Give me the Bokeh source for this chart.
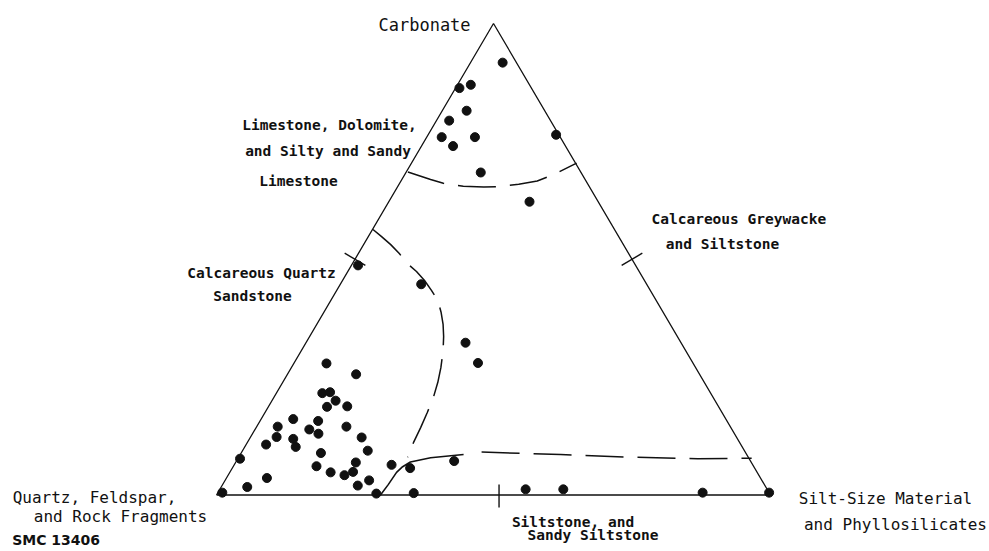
from bokeh.plotting import figure
from bokeh.models import Range1d, Label
from bokeh.embed import file_html
from bokeh.resources import INLINE
import math

# ---- sample compositions (percent) ----
# carbonate (apex), silt-size material & phyllosilicates (right corner);
# quartz, feldspar & rock fragments = remainder (left corner)
carbonate = [91.7, 86.3, 87.0, 81.5, 79.4, 75.9, 75.9, 74.0, 68.4, 76.4, 62.2,
             48.7, 44.7, 32.3, 28.0,
             27.9, 25.6, 21.6, 21.8, 20.0, 18.7, 18.8, 16.1, 15.7, 14.5,
             14.5, 13.9, 13.0, 12.3, 11.9, 12.2, 10.7, 10.2, 9.4, 8.9,
             7.7, 6.9, 6.1, 6.4, 5.7, 7.2, 4.8, 4.9, 4.2, 3.6,
             3.1, 2.0, 1.7, 0.3, 0.4, 0.5,
             1.2, 1.2, 0.5, 0.5]
silt = [5.8, 0.7, 2.4, 4.4, 2.3, 2.7, 8.7, 5.7, 13.5, 23.1, 25.4,
        1.2, 14.6, 28.8, 33.2,
        5.9, 12.4, 8.3, 9.6, 11.5, 10.6, 14.2, 5.8, 10.5, 16.2,
        3.8, 9.8, 11.9, 4.7, 7.9, 20.1, 3.6, 9.2, 22.6, 14.4,
        0.4, 21.7, 15.0, 28.4, 32.1, 39.3, 18.2, 22.2, 21.0, 7.3,
        26.0, 24.5, 4.7, 28.7, 35.4, 0.8,
        55.2, 62.0, 87.5, 99.5]

# ---- field boundaries (carbonate %, silt %) ----
limestone_c = [68.5, 66.9, 66.1, 65.5, 65.3, 65.4, 65.9, 66.6, 68.0, 70.4]
limestone_s = [0.3, 5.2, 7.9, 11.8, 15.6, 18.0, 21.6, 24.6, 26.9, 29.8]
sandstone_c = [56.3, 54.8, 53.1, 51.2, 49.1, 47.4, 45.5, 43.4, 41.3, 38.7,
               36.2, 33.6, 30.6, 27.0, 23.9, 20.7, 17.5, 14.3, 11.1, 8.0]
sandstone_s = [0.1, 2.4, 4.9, 7.4, 9.9, 12.4, 14.8, 17.1, 19.3, 21.2,
               22.8, 24.2, 25.6, 27.0, 28.0, 28.8, 29.3, 29.7, 30.0, 30.5]
siltstone_c = [0.0, 2.2, 4.8, 6.0, 7.0, 7.9, 8.6]
siltstone_s = [29.6, 29.9, 30.1, 30.6, 31.5, 34.7, 40.3]
greywacke_c = [9.1, 8.6, 8.0, 7.7, 7.8]
greywacke_s = [43.3, 57.8, 71.3, 83.0, 92.7]

# ---- edge marks (carbonate %, silt %) ----
mark_c = [50.0, 50.0, 0.0]
mark_s = [0.0, 50.0, 51.0]


def tern(c, s):
    xs = [si / 100 + ci / 200 for ci, si in zip(c, s)]
    ys = [ci / 100 for ci in c]
    return xs, ys


# canvas geometry: triangle corners in screen pixels
W, H = 988, 550
LEFT_PX, RIGHT_PX, BASE_PX, APEX_PX = 216.0, 770.0, 494.5, 23.0
PX_X = RIGHT_PX - LEFT_PX
PX_Y = BASE_PX - APEX_PX
X0 = -LEFT_PX / PX_X
X1 = X0 + W / PX_X
Y1 = BASE_PX / PX_Y
Y0 = Y1 - H / PX_Y

p = figure(width=W, height=H, output_backend="svg", toolbar_location=None,
           x_range=Range1d(X0, X1), y_range=Range1d(Y0, Y1),
           min_border=0, outline_line_color=None, background_fill_color="white")
p.axis.visible = False
p.grid.visible = False

INK = "#111111"

# triangle
tx, ty = tern([0, 0, 100, 0], [0, 100, 0, 0])
p.line(tx, ty, line_color=INK, line_width=1.3)

# boundaries
DASH = "38 14"
for cc, ss in [(limestone_c, limestone_s), (sandstone_c, sandstone_s),
               (greywacke_c, greywacke_s)]:
    bx, by = tern(cc, ss)
    p.line(bx, by, line_color=INK, line_width=1.5, line_dash=DASH)
sx, sy = tern(siltstone_c, siltstone_s)
p.line(sx, sy, line_color=INK, line_width=1.6)

# edge marks, perpendicular to edges, in pixels
TICK = 12
mx, my = tern(mark_c, mark_s)
dirs = [(277.0, 471.5), (277.0, -471.5), (0.0, 1.0)]
x0s, y0s, x1s, y1s = [], [], [], []
for (x, y), (ex, ey) in zip(zip(mx, my), dirs):
    if ex == 0:
        x0s.append(x); x1s.append(x)
        y0s.append(y + 10.5 / PX_Y); y1s.append(y - 12.5 / PX_Y)
        continue
    L = math.hypot(ex, ey)
    nx, ny = ey / L, -ex / L
    x0s.append(x - TICK * nx / PX_X); y0s.append(y - TICK * ny / PX_Y)
    x1s.append(x + TICK * nx / PX_X); y1s.append(y + TICK * ny / PX_Y)
p.segment(x0s, y0s, x1s, y1s, line_color=INK, line_width=1.4)

# samples
px_, py_ = tern(carbonate, silt)
p.scatter(px_, py_, size=9, fill_color=INK, line_color=INK)

FONT = "DejaVu Sans Mono"


def lab(text, x, y, size, align="center", style="normal", font=FONT):
    p.add_layout(Label(x=x, y=y, text=text, text_align=align,
                       text_baseline="alphabetic", text_font=font,
                       text_font_size=f"{size}px", text_color=INK,
                       text_font_style=style))


lab("Carbonate", 0.3755, 0.9958, 17)
lab("Quartz, Feldspar,", -0.2202, -0.0053, 16)
lab("and Rock Fragments", -0.1733, -0.0456, 16)
lab("Silt-Size Material", 1.2076, -0.0074, 16)
lab("and Phyllosilicates", 1.2256, -0.0626, 16)
lab("SMC 13406", -0.3688, -0.0965, 14, align="left", style="bold",
    font="DejaVu Sans")

INNER = 14.5
lab("Limestone, Dolomite,", 0.204, 0.7837, INNER, style="bold")
lab("and Silty and Sandy", 0.2014, 0.7292, INNER, style="bold")
lab("Limestone", 0.148, 0.667, INNER, style="bold")
lab("Calcareous Quartz", 0.0812, 0.4704, INNER, style="bold")
lab("Sandstone", 0.065, 0.4231, INNER, style="bold")
lab("Calcareous Greywacke", 0.9428, 0.5858, INNER, style="bold")
lab("and Siltstone", 0.9134, 0.5334, INNER, style="bold")
lab("Siltstone, and", 0.6435, -0.0577, INNER, style="bold")
lab("Sandy Siltstone", 0.6796, -0.0838, INNER, style="bold")

open("out.html", "w").write(file_html(p, INLINE))
